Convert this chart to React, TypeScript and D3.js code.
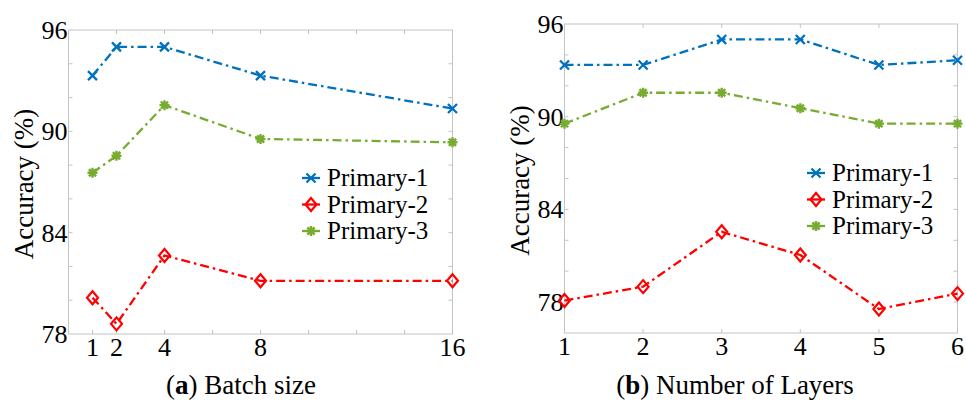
import React from 'react';
import * as d3 from 'd3';

// panel (a): batch size
const batchSizes = [1, 2, 4, 8, 16];
const batchPrimary1 = [93.3, 95.0, 95.0, 93.3, 91.35];
const batchPrimary2 = [80.15, 78.6, 82.65, 81.15, 81.15];
const batchPrimary3 = [87.55, 88.55, 91.55, 89.55, 89.35];
const batchTickLabels = [1, 2, 4, 8, 16];
const batchMinorTicks = [1, 2, 4, 6, 8, 10, 12, 14, 16];

// panel (b): number of layers
const layerCounts = [1, 2, 3, 4, 5, 6];
const layerPrimary1 = [93.35, 93.35, 95.0, 95.0, 93.35, 93.65];
const layerPrimary2 = [78.1, 79.0, 82.55, 81.05, 77.55, 78.55];
const layerPrimary3 = [89.55, 91.55, 91.55, 90.55, 89.55, 89.55];

const yTickLabels = [78, 84, 90, 96];
const seriesNames = ['Primary-1', 'Primary-2', 'Primary-3'];
const seriesColors = ['#0072BD', '#FF0000', '#77AC30'];

const FONT = "'Liberation Serif', 'Times New Roman', serif";
const FRAME = '#c4c4c4';

type Marker = 'x' | 'diamond' | 'star';
const markers: Marker[] = ['x', 'diamond', 'star'];

const MarkerShape = ({ type, x, y, color }: { type: Marker; x: number; y: number; color: string }) => {
  if (type === 'x') {
    const s = 4.5;
    return (
      <path d={`M${x - s},${y - s}L${x + s},${y + s}M${x - s},${y + s}L${x + s},${y - s}`}
        stroke={color} strokeWidth={2.3} fill="none" />
    );
  }
  if (type === 'diamond') {
    return (
      <path d={`M${x},${y - 6.5}L${x + 5.5},${y}L${x},${y + 6.5}L${x - 5.5},${y}Z`}
        stroke={color} strokeWidth={2.2} fill="none" />
    );
  }
  const s = 5;
  const d = s * 0.72;
  return (
    <path d={`M${x - s},${y}L${x + s},${y}M${x},${y - s}L${x},${y + s}M${x - d},${y - d}L${x + d},${y + d}M${x - d},${y + d}L${x + d},${y - d}`}
      stroke={color} strokeWidth={2.4} fill="none" />
  );
};

type PanelProps = {
  xs: number[];
  series: number[][];
  xDomain: [number, number];
  xRange: [number, number];
  yDomain: [number, number];
  yRange: [number, number];
  xLabels: number[];
  bottomTicks: number[];
  topTicks: number[];
  yMinor: number[];
  legendX: number;
  legendY: number;
  labelX: number;
  caption: string;
  captionX: number;
};

const txt = (size: number) => ({ fontFamily: FONT, fontSize: size });

const Panel = (p: PanelProps) => {
  const x = d3.scaleLinear().domain(p.xDomain).range(p.xRange);
  const y = d3.scaleLinear().domain(p.yDomain).range(p.yRange);
  const [x0, x1] = p.xRange;
  const [yb, yt] = p.yRange;
  const line = d3.line<number>().x((_, i) => x(p.xs[i])).y(d => y(d));
  const tl = 4;

  return (
    <g>
      {/* frame */}
      <rect x={x0} y={yt} width={x1 - x0} height={yb - yt} fill="none" stroke={FRAME} strokeWidth={1} />
      {p.bottomTicks.map(t => (
        <line key={'b' + t} x1={x(t)} x2={x(t)} y1={yb} y2={yb - tl} stroke={FRAME} />
      ))}
      {p.topTicks.map(t => (
        <line key={'t' + t} x1={x(t)} x2={x(t)} y1={yt} y2={yt + tl} stroke={FRAME} />
      ))}
      {p.yMinor.map(t => (
        <g key={'y' + t}>
          <line x1={x0} x2={x0 + tl} y1={y(t)} y2={y(t)} stroke={FRAME} />
          <line x1={x1} x2={x1 - tl} y1={y(t)} y2={y(t)} stroke={FRAME} />
        </g>
      ))}
      {/* tick labels */}
      {p.xLabels.map(t => (
        <text key={'xl' + t} x={x(t)} y={yb + 22} textAnchor="middle" style={txt(26)} fill="#000">{t}</text>
      ))}
      {yTickLabels.map(t => (
        <text key={'yl' + t} x={x0 - 1} y={y(t) + 9} textAnchor="end" style={txt(26)} fill="#000">{t}</text>
      ))}
      {/* axis label */}
      <text transform={`translate(${p.labelX},${(yb + yt) / 2 + 2}) rotate(-90)`} textAnchor="middle" dominantBaseline="central"
        style={txt(27)} fill="#000">Accuracy (%)</text>
      {/* series */}
      {p.series.map((vals, si) => (
        <g key={'s' + si}>
          <path d={line(vals) || ''} fill="none" stroke={seriesColors[si]} strokeWidth={2.3} strokeDasharray="9,4,2.5,4" />
          {vals.map((v, i) => (
            <MarkerShape key={i} type={markers[si]} x={x(p.xs[i])} y={y(v)} color={seriesColors[si]} />
          ))}
        </g>
      ))}
      {/* legend */}
      {seriesNames.map((name, si) => {
        const ly = p.legendY + si * 26.5;
        return (
          <g key={name}>
            <line x1={p.legendX} x2={p.legendX + 18} y1={ly} y2={ly} stroke={seriesColors[si]} strokeWidth={2.3} />
            <MarkerShape type={markers[si]} x={p.legendX + 9} y={ly} color={seriesColors[si]} />
            <text x={p.legendX + 25} y={ly + 8} style={txt(25)} fill="#000">{name}</text>
          </g>
        );
      })}
      {/* caption */}
      <text x={p.captionX} y={394} textAnchor="middle" style={txt(27)} fill="#000">
        (<tspan fontWeight="bold">{p.caption[0]}</tspan>){p.caption.slice(1)}
      </text>
    </g>
  );
};

const App = () => {
  const width = 966;
  const height = 401;
  return (
    <svg width={width} height={height} style={{ position: 'absolute', left: 0, top: 0, background: '#fff' }}>
      <rect width={width} height={height} fill="#fff" />
      <Panel
        xs={batchSizes}
        series={[batchPrimary1, batchPrimary2, batchPrimary3]}
        xDomain={[0, 16]}
        xRange={[68.5, 452.5]}
        yDomain={[78, 96]}
        yRange={[334, 30]}
        xLabels={batchTickLabels}
        bottomTicks={batchMinorTicks}
        topTicks={batchMinorTicks.slice(1)}
        yMinor={d3.range(80, 96, 2)}
        legendX={302}
        legendY={178}
        labelX={24}
        caption="a Batch size"
        captionX={241}
      />
      <Panel
        xs={layerCounts}
        series={[layerPrimary1, layerPrimary2, layerPrimary3]}
        xDomain={[1, 6]}
        xRange={[564.5, 957.5]}
        yDomain={[76, 96]}
        yRange={[333, 24]}
        xLabels={layerCounts}
        bottomTicks={layerCounts}
        topTicks={layerCounts}
        yMinor={d3.range(78, 96, 2)}
        legendX={807}
        legendY={173}
        labelX={520}
        caption="b Number of Layers"
        captionX={735}
      />
    </svg>
  );
};

export default App;
